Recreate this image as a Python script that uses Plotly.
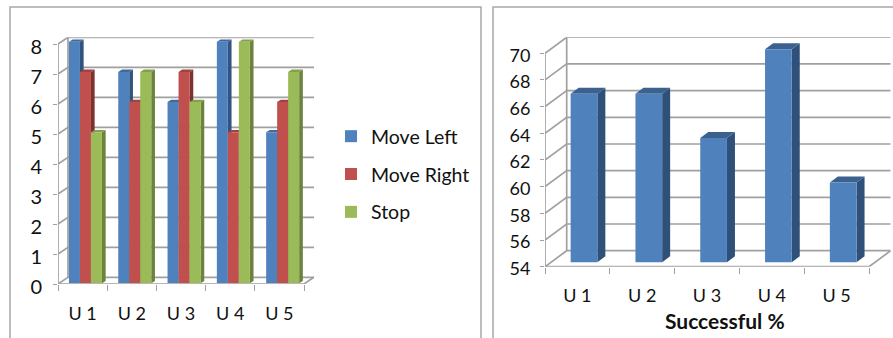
import plotly.graph_objects as go

W, H = 893, 338
categories = ["U 1", "U 2", "U 3", "U 4", "U 5"]
move_left = [8, 7, 6, 8, 5]
move_right = [7, 6, 7, 5, 6]
stop = [5, 7, 6, 8, 7]
successful = [66.67, 66.67, 63.33, 70, 60]
left_ticks = [0, 1, 2, 3, 4, 5, 6, 7, 8]
right_ticks = [54, 56, 58, 60, 62, 64, 66, 68, 70]
FONT = "Lato"
GRID = "#a0a0a0"


def dx(a, b):
    return [a / W, b / W]


def dy(top, bottom):
    return [1 - bottom / H, 1 - top / H]


fig = go.Figure()
n = len(categories)
tick_x = [i + 0.5 for i in range(n)]


def frame(ax, ticks, ox, oy):
    """Walls of the 3D box, expressed in data units of the front plane."""
    xs, ys = [], []
    for t in ticks:
        xs += [0, ox, n + ox, None]
        ys += [t, t + oy, t + oy, None]
    lo, hi = ticks[0], ticks[-1]
    xs += [0, 0, None, ox, ox, None, 0, n, n + ox, None]
    ys += [lo, hi, None, lo + oy, hi + oy, None, lo, lo, lo + oy, None]
    fig.add_trace(go.Scatter(x=xs, y=ys, mode="lines", showlegend=False, hoverinfo="skip",
                             line=dict(color=GRID, width=1.7),
                             xaxis="x" + ax, yaxis="y" + ax))


def faces(ax, lefts, values, w, ox, oy, side, top, name):
    for x0, v in zip(lefts, values):
        fig.add_trace(go.Scatter(x=[x0 + w, x0 + w + ox, x0 + w + ox, x0 + w, x0 + w],
                                 y=[base_of[ax], base_of[ax] + oy, v + oy, v, base_of[ax]],
                                 mode="lines", fill="toself", fillcolor=side, line=dict(width=0),
                                 showlegend=False, hoverinfo="skip", xaxis="x" + ax, yaxis="y" + ax))
        fig.add_trace(go.Scatter(x=[x0, x0 + ox, x0 + w + ox, x0 + w, x0],
                                 y=[v, v + oy, v + oy, v, v],
                                 mode="lines", fill="toself", fillcolor=top, line=dict(width=0),
                                 showlegend=False, hoverinfo="skip", xaxis="x" + ax, yaxis="y" + ax))


base_of = {"2": 0, "5": 54}

# left chart
frame("", left_ticks, 10 / 49.2, 6.7 / 30)
w_l = 11 / 49.3
series = [("Move Left", move_left, "#4f81bd", "#31557f", "#41699c"),
          ("Move Right", move_right, "#c0504d", "#7d3230", "#a04340"),
          ("Stop", stop, "#9bbb59", "#6b833c", "#83a04a")]
for s, (name, vals, col, side, top) in enumerate(series):
    lefts = [i + 0.5 + (s - 1.5) * w_l for i in range(n)]
    faces("2", lefts, vals, w_l, 3.7 / 49.3, 2.3 / 30.2, side, top, name)
for s, (name, vals, col, side, top) in enumerate(series):
    fig.add_trace(go.Bar(x=tick_x, y=vals, name=name, width=w_l, offset=(s - 1.5) * w_l,
                         marker=dict(color=col, line=dict(width=0)), legendgroup=name,
                         xaxis="x3", yaxis="y3"))

# right chart
frame("4", right_ticks, 21.7 / 64.8, 16 / 13.34)
w_r = 26.7 / 64.8
lefts = [i + 0.5 - w_r / 2 for i in range(n)]
faces("5", lefts, successful, w_r, 8 / 64.8, 6 / 13.31, "#2f5078", "#3b628f", "Successful %")
fig.add_trace(go.Bar(x=tick_x, y=successful, name="Successful %", width=w_r, offset=-w_r / 2,
                     marker=dict(color="#4f81bd", line=dict(width=0)), showlegend=False,
                     xaxis="x6", yaxis="y6"))

hidden = dict(visible=False, fixedrange=True)
layout = dict(
    width=W, height=H, margin=dict(l=0, r=0, t=0, b=0, autoexpand=False), paper_bgcolor="white",
    plot_bgcolor="rgba(0,0,0,0)",
    font=dict(family=FONT, size=17, color="#111111"), showlegend=True,
    legend=dict(x=331 / W, y=1 - 117 / H, xanchor="left", yanchor="top", tracegroupgap=9.5,
                traceorder="grouped", bgcolor="rgba(0,0,0,0)", font=dict(family=FONT, size=19.5)),
    annotations=[dict(text="<b>Successful %</b>", xref="paper", yref="paper", x=725 / W, y=1 - 320.5 / H,
                      xanchor="center", yanchor="middle", showarrow=False, font=dict(size=21, color="#111111"))],
    # left front-plane axes
    xaxis=dict(domain=dx(58, 314), range=[0, n + 10 / 49.2], tickvals=tick_x, ticktext=categories,
               ticks="outside", ticklen=13, tickcolor="rgba(0,0,0,0)", showgrid=False, zeroline=False,
               minor=dict(ticks="outside", ticklen=6, tickcolor=GRID, tick0=0, dtick=1, showgrid=False),
               tickfont=dict(size=18), fixedrange=True, automargin=False),
    yaxis=dict(domain=dy(37.3, 284), range=[0, 8 + 6.7 / 30], tickvals=left_ticks, ticks="outside", ticklen=4,
               tickcolor=GRID, showgrid=False, zeroline=False, tickfont=dict(size=20), fixedrange=True,
               automargin=False, ticklabelstandoff=7, ticklabelshift=3),
    xaxis2=dict(domain=dx(60.8, 60.8 + 5.1 * 49.3), range=[0, 5.1], anchor="y2", **hidden),
    yaxis2=dict(domain=dy(283.3 - 8.2 * 30.2, 283.3), range=[0, 8.2], anchor="x2", **hidden),
    xaxis3=dict(domain=dx(60.8, 60.8 + 5.1 * 49.3), range=[0, 5.1], anchor="y3", **hidden),
    yaxis3=dict(domain=dy(283.3 - 8.2 * 30.2, 283.3), range=[0, 8.2], anchor="x3", **hidden),
    # right front-plane axes
    xaxis4=dict(domain=dx(545, 545 + 64.8 * (n + 21.7 / 64.8)), range=[0, n + 21.7 / 64.8], anchor="y4",
                tickvals=tick_x, ticktext=categories, ticks="outside", ticklen=13,
                tickcolor="rgba(0,0,0,0)", showgrid=False, zeroline=False,
                minor=dict(ticks="outside", ticklen=6, tickcolor=GRID, tick0=0, dtick=1, showgrid=False),
                tickfont=dict(size=18), fixedrange=True, automargin=False),
    yaxis4=dict(domain=dy(266.7 - 16 * 13.34 - 16, 266.7), range=[54, 70 + 16 / 13.34], anchor="x4",
                tickvals=right_ticks, ticks="outside", ticklen=4, tickcolor=GRID, showgrid=False,
                zeroline=False, tickfont=dict(size=18), fixedrange=True, automargin=False,
                ticklabelstandoff=6, ticklabelshift=2),
    xaxis5=dict(domain=dx(551.6, 551.6 + 5.2 * 64.8), range=[0, 5.2], anchor="y5", **hidden),
    yaxis5=dict(domain=dy(262.3 - 17.5 * 13.31, 262.3), range=[54, 71.5], anchor="x5", **hidden),
    xaxis6=dict(domain=dx(551.6, 551.6 + 5.2 * 64.8), range=[0, 5.2], anchor="y6", **hidden),
    yaxis6=dict(domain=dy(262.3 - 17.5 * 13.31, 262.3), range=[54, 71.5], anchor="x6", **hidden),
    shapes=[
        dict(type="path", xref="paper", yref="paper", line=dict(color="#a8a8a8", width=1.5),
             path=f"M {10/W} 0 L {10/W} {1-7/H} L {481/W} {1-7/H} L {481/W} 0"),
        dict(type="path", xref="paper", yref="paper", line=dict(color="#a8a8a8", width=1.5),
             path=f"M {493/W} 0 L {493/W} {1-7/H} L 1 {1-7/H}"),
    ],
)
fig.update_layout(**layout)
fig.write_html("out.html", post_script="document.body.style.margin='0';document.body.style.overflow='hidden';",
               config=dict(displayModeBar=False))
